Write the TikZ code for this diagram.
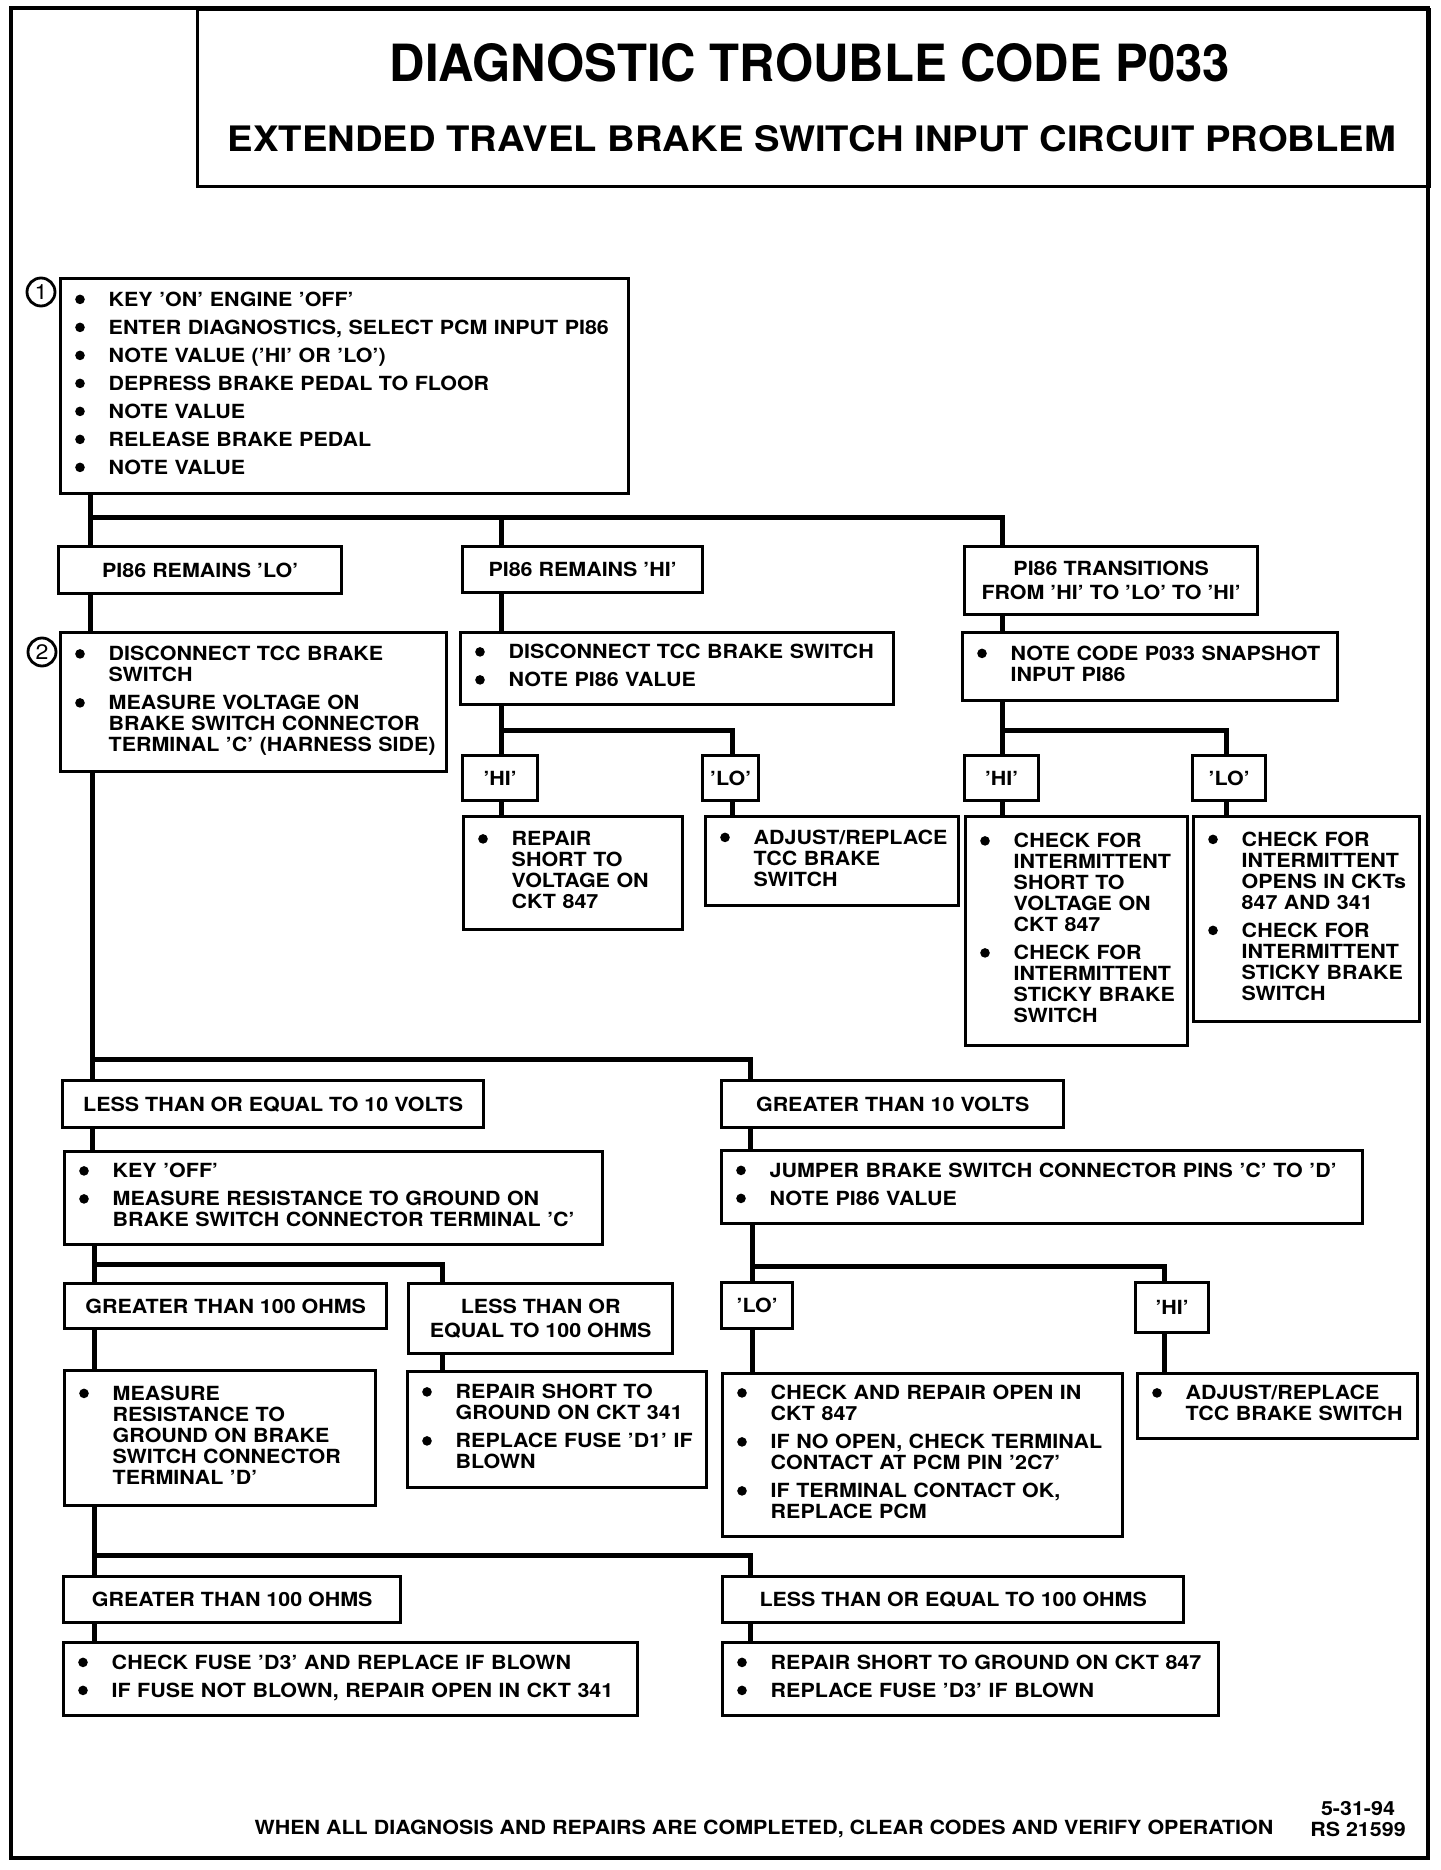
\documentclass[tikz,border=0pt]{standalone}
\usepackage{fontspec}
\setmainfont{TeX Gyre Heros}[FakeStretch=1.1]
\usepackage{graphicx}
\newcommand\boxfont{\fontsize{19.5}{21}\selectfont\bfseries}
\newcommand\numfont{\fontsize{21}{21}\selectfont}
\newcommand\bul{\makebox[35pt][l]{\hspace{1.5pt}\tikz[baseline={(0pt,-7pt)}]\fill (0pt,0pt) circle (4.8pt);}}
\newenvironment{steps}{\begin{tabular}{@{}l@{}l@{}}}{\end{tabular}}
\newcommand\nx{\\[7pt]}
\tikzset{
	frame/.style={line width=3.2pt},
	hdr/.style={draw, line width=3.2pt, anchor=north west, inner sep=0pt},
	stepbox/.style={draw, line width=3.4pt, anchor=north west, inner xsep=13pt, inner ysep=0pt, align=left, font=\boxfont},
	tagbox/.style={draw, line width=3.4pt, anchor=north west, inner sep=0pt, align=center, font=\boxfont},
	wire/.style={line width=5pt},
	num/.style={circle, draw, line width=2.8pt, minimum size=28pt, inner sep=0pt, font=\numfont}
}
\begin{document}
\begin{tikzpicture}[x=1pt, y=-1pt]
		\useasboundingbox (0,0) rectangle (1440,1870);
		\draw[frame] (11,8) rectangle (1428,1858);
		\node[hdr, minimum width=1232pt, minimum height=177pt] (hdr) at (196,8) {};
		\node (ttl1) at (810,63) {\resizebox{840pt}{38pt}{\bfseries DIAGNOSTIC TROUBLE CODE P033}};
		\node (ttl2) at (812,139) {\resizebox{1168pt}{26pt}{\bfseries EXTENDED TRAVEL BRAKE SWITCH INPUT CIRCUIT PROBLEM}};
		\node[num] (n1) at (41,292) {1};
		\node[num] (n2) at (42,652) {2};
		\node[stepbox, text width=542pt, minimum height=215pt] (s1) at (59,277) {\begin{steps}
			\bul & KEY 'ON' ENGINE 'OFF'\nx
			\bul & ENTER DIAGNOSTICS, SELECT PCM INPUT PI86\nx
			\bul & NOTE VALUE ('HI' OR 'LO')\nx
			\bul & DEPRESS BRAKE PEDAL TO FLOOR\nx
			\bul & NOTE VALUE\nx
			\bul & RELEASE BRAKE PEDAL\nx
			\bul & NOTE VALUE
		\end{steps}};
		\node[tagbox, minimum width=283pt, minimum height=47pt] (lo1) at (57,545) {PI86 REMAINS 'LO'};
		\node[tagbox, minimum width=240pt, minimum height=46pt] (hi1) at (461,545) {PI86 REMAINS 'HI'};
		\node[tagbox, minimum width=293pt, minimum height=68pt] (tr1) at (963,545) {PI86 TRANSITIONS\\[3pt]FROM 'HI' TO 'LO' TO 'HI'};
		\node[stepbox, text width=360pt, minimum height=139pt] (s2) at (59,631) {\begin{steps}
			\bul & DISCONNECT TCC BRAKE\\ & SWITCH\nx
			\bul & MEASURE VOLTAGE ON\\ & BRAKE SWITCH CONNECTOR\\ & TERMINAL 'C' (HARNESS SIDE)
		\end{steps}};
		\node[stepbox, text width=407pt, minimum height=72pt] (dc1) at (459,631) {\begin{steps}
			\bul & DISCONNECT TCC BRAKE SWITCH\nx
			\bul & NOTE PI86 VALUE
		\end{steps}};
		\node[stepbox, text width=349pt, minimum height=68pt] (sn1) at (961,631) {\begin{steps}
			\bul & NOTE CODE P033 SNAPSHOT\\ & INPUT PI86
		\end{steps}};
		\node[tagbox, minimum width=75pt, minimum height=45pt] (ha) at (461,754) {'HI'};
		\node[tagbox, minimum width=56pt, minimum height=45pt] (la) at (701,754) {'LO'};
		\node[tagbox, minimum width=74pt, minimum height=45pt] (hb) at (963,754) {'HI'};
		\node[tagbox, minimum width=73pt, minimum height=45pt] (lb) at (1191,754) {'LO'};
		\node[stepbox, text width=193pt, minimum height=113pt] (ra) at (462,815) {\begin{steps}
			\bul & REPAIR\\ & SHORT TO\\ & VOLTAGE ON\\ & CKT 847
		\end{steps}};
		\node[stepbox, text width=227pt, minimum height=89pt] (aa) at (704,815) {\begin{steps}
			\bul & ADJUST/REPLACE\\ & TCC BRAKE\\ & SWITCH
		\end{steps}};
		\node[stepbox, text width=196pt, minimum height=229pt] (ia) at (964,815) {\begin{steps}
			\bul & CHECK FOR\\ & INTERMITTENT\\ & SHORT TO\\ & VOLTAGE ON\\ & CKT 847\nx
			\bul & CHECK FOR\\ & INTERMITTENT\\ & STICKY BRAKE\\ & SWITCH
		\end{steps}};
		\node[stepbox, text width=200pt, minimum height=205pt] (ib) at (1192,815) {\begin{steps}
			\bul & CHECK FOR\\ & INTERMITTENT\\ & OPENS IN CKTs\\ & 847 AND 341\nx
			\bul & CHECK FOR\\ & INTERMITTENT\\ & STICKY BRAKE\\ & SWITCH
		\end{steps}};
		\node[tagbox, minimum width=421pt, minimum height=47pt] (lv) at (61,1079) {LESS THAN OR EQUAL TO 10 VOLTS};
		\node[tagbox, minimum width=342pt, minimum height=47pt] (gv) at (720,1079) {GREATER THAN 10 VOLTS};
		\node[stepbox, text width=512pt, minimum height=93pt] (ko) at (63,1150) {\begin{steps}
			\bul & KEY 'OFF'\nx
			\bul & MEASURE RESISTANCE TO GROUND ON\\ & BRAKE SWITCH CONNECTOR TERMINAL 'C'
		\end{steps}};
		\node[stepbox, text width=615pt, minimum height=73pt] (jp) at (720,1149) {\begin{steps}
			\bul & JUMPER BRAKE SWITCH CONNECTOR PINS 'C' TO 'D'\nx
			\bul & NOTE PI86 VALUE
		\end{steps}};
		\node[tagbox, minimum width=322pt, minimum height=45pt] (go1) at (63,1282) {GREATER THAN 100 OHMS};
		\node[tagbox, minimum width=264pt, minimum height=70pt] (le1) at (407,1282) {LESS THAN OR\\[3pt]EQUAL TO 100 OHMS};
		\node[tagbox, minimum width=71pt, minimum height=46pt] (lc) at (720,1281) {'LO'};
		\node[tagbox, minimum width=73pt, minimum height=50pt] (hc) at (1134,1281) {'HI'};
		\node[stepbox, text width=285pt, minimum height=135pt] (ms) at (63,1369) {\begin{steps}
			\bul & MEASURE\\ & RESISTANCE TO\\ & GROUND ON BRAKE\\ & SWITCH CONNECTOR\\ & TERMINAL 'D'
		\end{steps}};
		\node[stepbox, text width=273pt, minimum height=116pt] (rs) at (406,1370) {\begin{steps}
			\bul & REPAIR SHORT TO\\ & GROUND ON CKT 341\nx
			\bul & REPLACE FUSE 'D1' IF\\ & BLOWN
		\end{steps}};
		\node[stepbox, text width=374pt, minimum height=163pt] (cr) at (721,1372) {\begin{steps}
			\bul & CHECK AND REPAIR OPEN IN\\ & CKT 847\nx
			\bul & IF NO OPEN, CHECK TERMINAL\\ & CONTACT AT PCM PIN '2C7'\nx
			\bul & IF TERMINAL CONTACT OK,\\ & REPLACE PCM
		\end{steps}};
		\node[stepbox, text width=254pt, minimum height=65pt] (ac) at (1136,1372) {\begin{steps}
			\bul & ADJUST/REPLACE\\ & TCC BRAKE SWITCH
		\end{steps}};
		\node[tagbox, minimum width=337pt, minimum height=46pt] (go2) at (62,1575) {GREATER THAN 100 OHMS};
		\node[tagbox, minimum width=461pt, minimum height=46pt] (le2) at (721,1575) {LESS THAN OR EQUAL TO 100 OHMS};
		\node[stepbox, text width=548pt, minimum height=73pt] (cf) at (62,1641) {\begin{steps}
			\bul & CHECK FUSE 'D3' AND REPLACE IF BLOWN\nx
			\bul & IF FUSE NOT BLOWN, REPAIR OPEN IN CKT 341
		\end{steps}};
		\node[stepbox, text width=470pt, minimum height=73pt] (rp) at (721,1641) {\begin{steps}
			\bul & REPAIR SHORT TO GROUND ON CKT 847\nx
			\bul & REPLACE FUSE 'D3' IF BLOWN
		\end{steps}};
		\node[font=\boxfont] (note) at (764,1829) {WHEN ALL DIAGNOSIS AND REPAIRS ARE COMPLETED, CLEAR CODES AND VERIFY OPERATION};
		\node[font=\boxfont, align=center] (rev) at (1358,1819) {5-31-94\\RS 21599};
		\coordinate (a1) at (90,517);
		\coordinate (a2) at (501,517);
		\coordinate (a3) at (1002,517);
		\draw[wire] (s1.south -| a1) -- (lo1.north -| a1);
		\draw[wire] (a1) -- (a3) -- (tr1.north -| a3);
		\draw[wire] (a2) -- (hi1.north -| a2);
		\draw[wire] (lo1.south -| a1) -- (s2.north -| a1);
		\draw[wire] (hi1.south -| a2) -- (dc1.north -| a2);
		\draw[wire] (tr1.south -| a3) -- (sn1.north -| a3);
		\coordinate (b1) at (501,730);
		\coordinate (b2) at (732,730);
		\draw[wire] (dc1.south -| b1) -- (ha.north -| b1);
		\draw[wire] (b1) -- (b2) -- (la.north -| b2);
		\draw[wire] (ha.south -| b1) -- (ra.north -| b1);
		\draw[wire] (la.south -| b2) -- (aa.north -| b2);
		\coordinate (c1) at (1002,730);
		\coordinate (c2) at (1226,730);
		\draw[wire] (sn1.south -| c1) -- (hb.north -| c1);
		\draw[wire] (c1) -- (c2) -- (lb.north -| c2);
		\draw[wire] (hb.south -| c1) -- (ia.north -| c1);
		\draw[wire] (lb.south -| c2) -- (ib.north -| c2);
		\coordinate (d1) at (92,1059);
		\coordinate (d2) at (750,1059);
		\draw[wire] (s2.south -| d1) -- (lv.north -| d1);
		\draw[wire] (d1) -- (d2) -- (gv.north -| d2);
		\draw[wire] (lv.south -| d1) -- (ko.north -| d1);
		\draw[wire] (gv.south -| d2) -- (jp.north -| d2);
		\coordinate (e1) at (94,1264);
		\coordinate (e2) at (442,1264);
		\draw[wire] (ko.south -| e1) -- (go1.north -| e1);
		\draw[wire] (e1) -- (e2) -- (le1.north -| e2);
		\draw[wire] (go1.south -| e1) -- (ms.north -| e1);
		\draw[wire] (le1.south -| e2) -- (rs.north -| e2);
		\coordinate (f1) at (752,1266);
		\coordinate (f2) at (1164,1266);
		\draw[wire] (jp.south -| f1) -- (lc.north -| f1);
		\draw[wire] (f1) -- (f2) -- (hc.north -| f2);
		\draw[wire] (lc.south -| f1) -- (cr.north -| f1);
		\draw[wire] (hc.south -| f2) -- (ac.north -| f2);
		\coordinate (g1) at (94,1555);
		\coordinate (g2) at (750,1555);
		\draw[wire] (ms.south -| g1) -- (go2.north -| g1);
		\draw[wire] (g1) -- (g2) -- (le2.north -| g2);
		\draw[wire] (go2.south -| g1) -- (cf.north -| g1);
		\draw[wire] (le2.south -| g2) -- (rp.north -| g2);
	\end{tikzpicture}
\end{document}
